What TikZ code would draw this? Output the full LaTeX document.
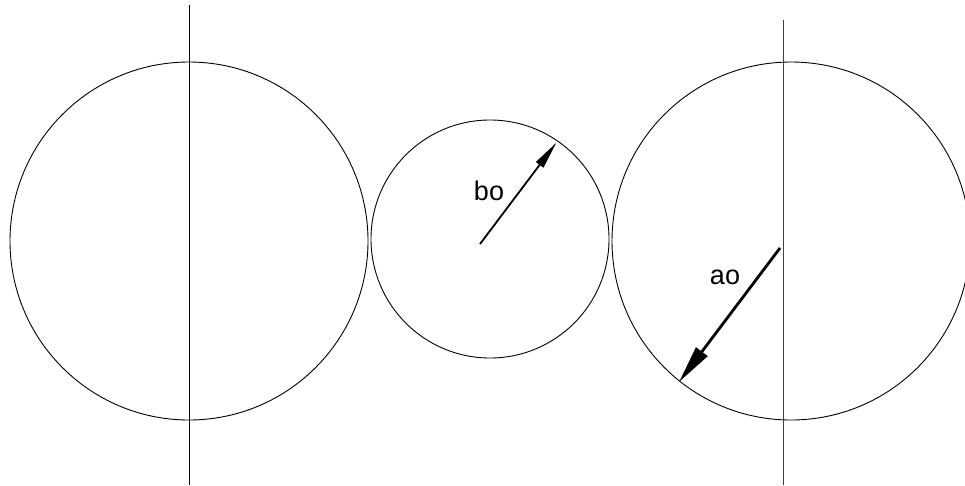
\documentclass[tikz,border=0pt]{standalone}
\usepackage{fontspec}
\setmainfont{Liberation Sans}
\usetikzlibrary{arrows.meta}
\begin{document}
\begin{tikzpicture}[x=1pt,y=-1pt,
  ring/.style={circle,draw,line width=0.9pt,inner sep=0pt},
  axis/.style={draw,line width=1pt},
  lbl/.style={font=\fontsize{27}{32}\selectfont,inner sep=0pt}]
\useasboundingbox (0,0) rectangle (965,485);
\node[ring,minimum size=358pt] (L) at (189,241) {};
\node[ring,minimum size=238pt] (M) at (490,239) {};
\node[ring,minimum size=358pt] (R) at (791,241) {};
\coordinate (Lt) at (189.5,5);
\coordinate (Lb) at (189.5,485);
\coordinate (Rt) at (783,20);
\coordinate (Rb) at (783,485);
\draw[axis] (Lt) -- (Lb);
\draw[axis,black!75] (Rt) -- (Rb);
\coordinate (b0) at (480,244);
\coordinate (b1) at (556.5,142.5);
\coordinate (a0) at (780,248);
\coordinate (a1) at (679,382);
\draw[line width=1.8pt,-{Triangle[length=28pt,width=9pt]}] (b0) -- (b1);
\draw[line width=2.8pt,-{Triangle[length=38pt,width=14pt]}] (a0) -- (a1);
\node[lbl] (bo) at (489,191) {bo};
\node[lbl] (ao) at (725,277) {ao};
\end{tikzpicture}
\end{document}
